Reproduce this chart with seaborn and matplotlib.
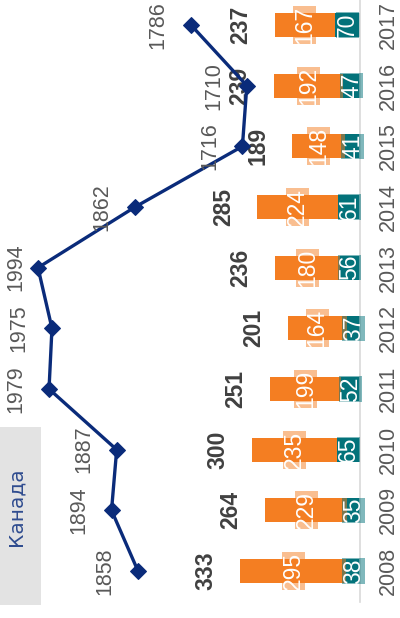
import matplotlib
matplotlib.use("Agg")
import matplotlib.pyplot as plt
from matplotlib.patches import Rectangle
import seaborn as sns
import pandas as pd

# --- data -------------------------------------------------------------
years = [2008, 2009, 2010, 2011, 2012, 2013, 2014, 2015, 2016, 2017]
part_a = [295, 229, 235, 199, 164, 180, 224, 148, 192, 167]   # orange segment
part_b = [38, 35, 65, 52, 37, 56, 61, 41, 47, 70]             # teal segment
totals = [333, 264, 300, 251, 201, 236, 285, 189, 239, 237]
line_vals = [1858, 1894, 1887, 1979, 1975, 1994, 1862, 1716, 1710, 1786]
title = "Канада"

# --- style ------------------------------------------------------------
ORANGE = "#F47E22"
TEAL = "#03727A"
NAVY = "#0A2B7A"
GRAY_TXT = "#595959"
DARK_TXT = "#404040"
TITLE_BLUE = "#2F4C8F"

sns.set_theme(style="white")
NARROW = ["Liberation Sans Narrow", "Liberation Sans", "DejaVu Sans"]
plt.rcParams["font.family"] = NARROW

DPI = 100
W, H = 400, 618
fig = plt.figure(figsize=(W / DPI, H / DPI), dpi=DPI)

# main axes: bars grow leftwards from the right spine
ax = fig.add_axes([0, 16 / H, 360 / W, 602 / H])
df = pd.DataFrame({"year": years, "a": part_a, "b": part_b, "total": totals,
                   "line": line_vals})

sns.barplot(data=df, x="total", y="year", orient="y", native_scale=True,
            color=ORANGE, saturation=1, width=0.4, ax=ax, zorder=2)
sns.barplot(data=df, x="b", y="year", orient="y", native_scale=True,
            color=TEAL, saturation=1, width=0.4, ax=ax, zorder=2)
for p in ax.patches:
    p.set_edgecolor("none")

ax.set_xlim(1000, 0)
ax.set_ylim(2008 - 31 / 60.7, 2017 + 25 / 60.7)
ax.set_xlabel("")
ax.set_ylabel("")
ax.set_xticks([])
for s in ["top", "left", "bottom"]:
    ax.spines[s].set_visible(False)
ax.spines["right"].set_visible(True)
ax.spines["right"].set_color("#D9D9D9")
ax.spines["right"].set_linewidth(1.2)
ax.yaxis.tick_right()
ax.set_yticks(years)
ax.set_yticklabels([str(y) for y in years], rotation=90, va="center",
                   color=GRAY_TXT, fontsize=15.5)
ax.tick_params(axis="y", length=0, pad=13)
ax.set_facecolor("none")

FS = 16.5
for y, a, b, t in zip(years, part_a, part_b, totals):
    ax.annotate(str(t), xy=(t, y), xytext=(-34, 0), textcoords="offset pixels",
                rotation=90, ha="center", va="center", fontsize=FS,
                fontweight="bold", color=DARK_TXT, zorder=5)
    ax.text(b + a / 2, y, str(a), rotation=90, ha="center", va="center",
            fontsize=FS, color="white", zorder=4,
            bbox=dict(boxstyle="square,pad=0", fc=ORANGE, ec="none", alpha=0.5))
    ax.text(b / 2, y, str(b), rotation=90, ha="center", va="center",
            fontsize=FS, color="white", zorder=4,
            bbox=dict(boxstyle="square,pad=0", fc=TEAL, ec="none", alpha=0.5))

# line on its own horizontal scale, sharing the year axis
ax2 = ax.twiny()
sns.lineplot(data=df, x="line", y="year", sort=False, color=NAVY,
             linewidth=2.4, marker="D", markersize=8, markeredgecolor=NAVY,
             ax=ax2)
x_left = 1858 + 138 / 0.7353
x_right = 1858 - 222 / 0.7353
ax2.set_xlim(x_left, x_right)
ax2.set_xticks([])
ax2.set_xlabel("")
ax2.set_ylabel("")
for s in ax2.spines.values():
    s.set_visible(False)

# value labels on the line, kept inside the figure
fig.canvas.draw()
for y, v in zip(years, line_vals):
    px, py = ax2.transData.transform((v, y))
    off = max(-33, 16 - px)
    ax2.annotate(str(v), xy=(v, y), xytext=(off, 0),
                 textcoords="offset pixels", rotation=90, ha="center",
                 va="center", fontsize=15.5, color=GRAY_TXT)

# title box
fig.patches.append(Rectangle((0, 1 - 605 / H), 41 / W, 178 / H,
                             transform=fig.transFigure, fc="#E3E3E3",
                             ec="none", zorder=0))
fig.text(16 / W, 1 - 507 / H, title, rotation=90, ha="center", va="center",
         fontsize=14.5, color=TITLE_BLUE, family=["DejaVu Sans"])

fig.savefig("out.png", dpi=DPI)
